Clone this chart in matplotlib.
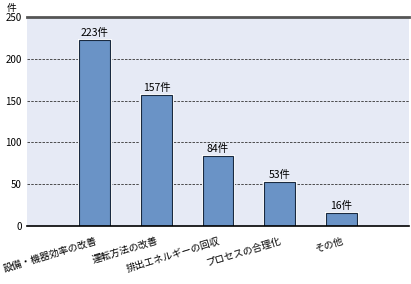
import matplotlib
matplotlib.use("Agg")
import matplotlib.pyplot as plt

plt.rcParams["font.family"] = ["Noto Sans CJK JP", "DejaVu Sans"]

# ==============================
# Data
# ==============================
CATEGORIES = ["設備・機器効率の改善", "運転方法の改善", "排出エネルギーの回収", "プロセスの合理化", "その他"]
COUNTS = [223, 157, 84, 53, 16]
Y_TICKS = [0, 50, 100, 150, 200, 250]

BG = "#E6EAF5"
BAR = "#6A93C6"


def main():
    fig = plt.figure(figsize=(4.11, 2.84), dpi=100)
    ax = fig.add_axes([0.066, 0.204, 0.929, 0.736])
    ax.set_facecolor(BG)

    x = list(range(len(CATEGORIES)))
    # thin white halo behind the bars, then the bars themselves
    ax.bar(x, COUNTS, width=0.5, color="white", edgecolor="white", linewidth=2.2, zorder=2)
    ax.bar(x, COUNTS, width=0.5, color=BAR, edgecolor="#1a2a40", linewidth=0.8, zorder=3)

    for xi, v in zip(x, COUNTS):
        ax.text(xi, v + 2, f"{v}件", ha="center", va="bottom", fontsize=7.5, zorder=4)

    ax.set_xlim(-1.1, 5.1)
    ax.set_ylim(0, 250)
    ax.set_yticks(Y_TICKS)
    ax.set_yticklabels([str(t) for t in Y_TICKS], fontsize=7)
    ax.tick_params(axis="y", length=0, pad=4)
    ax.tick_params(axis="x", length=0, pad=7)
    ax.set_xticks(x)
    ax.set_xticklabels(CATEGORIES, rotation=17, ha="right", rotation_mode="anchor", fontsize=7)

    for t in Y_TICKS[1:-1]:
        ax.axhline(t, color="#333333", linewidth=0.6, linestyle=(0, (3, 1.5)), zorder=1)

    for side in ("left", "right"):
        ax.spines[side].set_visible(False)
    ax.spines["top"].set_color("#555555")
    ax.spines["top"].set_linewidth(2)
    ax.spines["bottom"].set_color("black")
    ax.spines["bottom"].set_linewidth(1.2)
    ax.spines["bottom"].set_zorder(5)

    fig.text(0.027, 0.99, "件", fontsize=7, ha="center", va="top")

    fig.savefig("out.png", dpi=100)


if __name__ == "__main__":
    main()
